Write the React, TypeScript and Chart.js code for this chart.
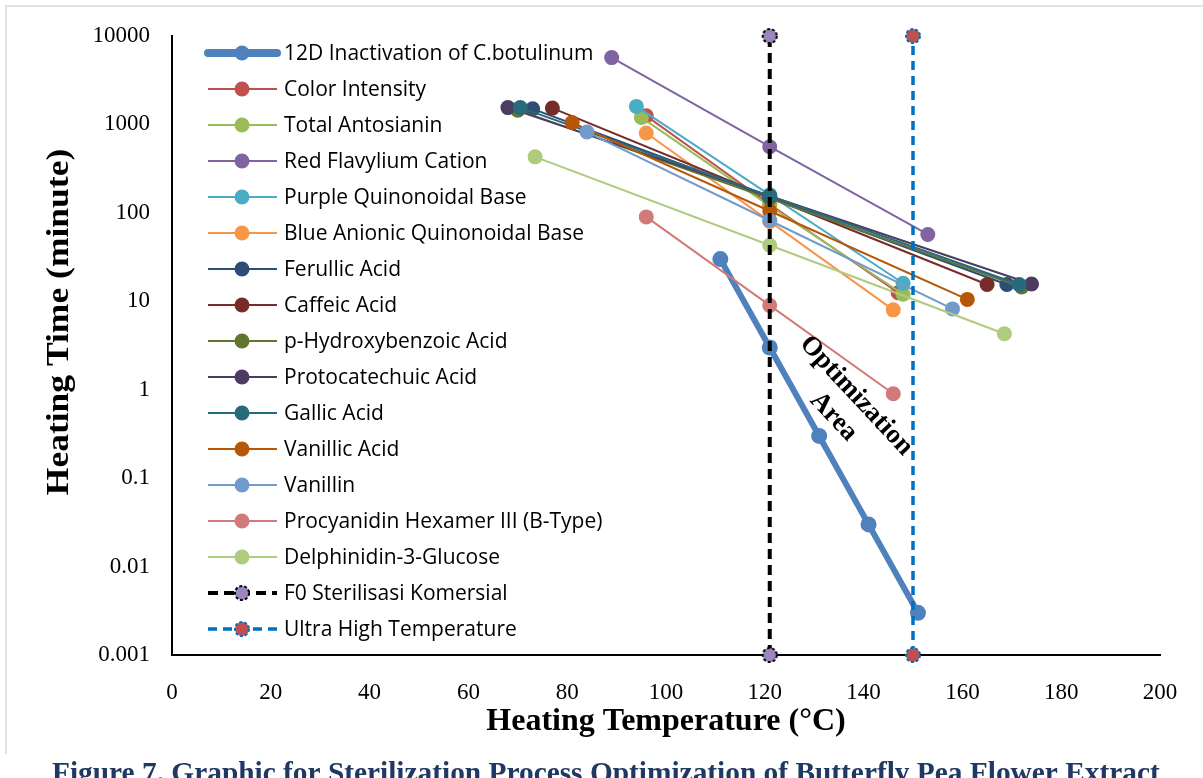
import React, { useEffect, useRef } from 'react';
import { Chart, registerables } from 'chart.js';

Chart.register(...registerables);

// ---------- data ----------
const SERIES_NAMES = [
  '12D Inactivation of C.botulinum',
  'Color Intensity',
  'Total Antosianin',
  'Red Flavylium Cation',
  'Purple Quinonoidal Base',
  'Blue Anionic Quinonoidal Base',
  'Ferullic Acid',
  'Caffeic Acid',
  'p-Hydroxybenzoic Acid',
  'Protocatechuic Acid',
  'Gallic Acid',
  'Vanillic Acid',
  'Vanillin',
  'Procyanidin Hexamer III (B-Type)',
  'Delphinidin-3-Glucose',
  'F0 Sterilisasi Komersial',
  'Ultra High Temperature',
];

const botulinumTemp = [111, 121, 131, 141, 151];
const botulinumTime = [30, 3, 0.3, 0.03, 0.003];

const colorIntensityTemp = [96, 121, 147];
const colorIntensityTime = [1250, 125, 12.5];

const totalAntosianinTemp = [95, 121, 148];
const totalAntosianinTime = [1200, 120, 12];

const redFlavyliumTemp = [89, 121, 153];
const redFlavyliumTime = [5700, 560, 57];

const purpleQuinonoidalTemp = [94, 121, 148];
const purpleQuinonoidalTime = [1600, 160, 16];

const blueAnionicTemp = [96, 121, 146];
const blueAnionicTime = [800, 80, 8];

const ferullicTemp = [73, 121, 169];
const ferullicTime = [1500, 150, 15.5];

const caffeicTemp = [77, 121, 165];
const caffeicTime = [1530, 150, 15.5];

const hydroxybenzoicTemp = [70, 121, 172];
const hydroxybenzoicTime = [1450, 145, 14.5];

const protocatechuicTemp = [68, 121, 174];
const protocatechuicTime = [1550, 155, 15.7];

const gallicTemp = [70.5, 121, 171.5];
const gallicTime = [1550, 155, 15.5];

const vanillicTemp = [81, 121, 161];
const vanillicTime = [1050, 105, 10.5];

const vanillinTemp = [84, 121, 158];
const vanillinTime = [820, 82, 8.2];

const procyanidinTemp = [96, 121, 146];
const procyanidinTime = [90, 9, 0.9];

const delphinidinTemp = [73.5, 121, 168.5];
const delphinidinTime = [430, 43, 4.3];

const f0Temp = [121, 121];
const f0Time = [0.001, 10000];

const uhtTemp = [150, 150];
const uhtTime = [0.001, 10000];

const SERIES_COLORS = [
  '#4F81BD', '#C0504D', '#9BBB59', '#8064A2', '#4BACC6', '#F79646',
  '#2C4D75', '#772C2A', '#5F7530', '#4D3B62', '#276A7C', '#B65708',
  '#729ACA', '#D07B7A', '#AFCB7E', '#000000', '#0070C0',
];

const Y_TICKS = [0.001, 0.01, 0.1, 1, 10, 100, 1000, 10000];
const Y_TICK_LABELS = ['0.001', '0.01', '0.1', '1', '10', '100', '1000', '10000'];
const X_MIN = 0;
const X_MAX = 200;
const X_STEP = 20;

const X_TITLE = 'Heating Temperature (°C)';
const Y_TITLE = 'Heating Time (minute)';
const CAPTION = 'Figure 7. Graphic for Sterilization Process Optimization of Butterfly Pea Flower Extract';
const ANNOTATION_LINES = ['Optimization', 'Area'];
const ANNOTATION_AT = { x: 136.2, y: 0.65 };

const SERIES_DATA: [number[], number[]][] = [
  [botulinumTemp, botulinumTime],
  [colorIntensityTemp, colorIntensityTime],
  [totalAntosianinTemp, totalAntosianinTime],
  [redFlavyliumTemp, redFlavyliumTime],
  [purpleQuinonoidalTemp, purpleQuinonoidalTime],
  [blueAnionicTemp, blueAnionicTime],
  [ferullicTemp, ferullicTime],
  [caffeicTemp, caffeicTime],
  [hydroxybenzoicTemp, hydroxybenzoicTime],
  [protocatechuicTemp, protocatechuicTime],
  [gallicTemp, gallicTime],
  [vanillicTemp, vanillicTime],
  [vanillinTemp, vanillinTime],
  [procyanidinTemp, procyanidinTime],
  [delphinidinTemp, delphinidinTime],
  [f0Temp, f0Time],
  [uhtTemp, uhtTime],
];

const SERIF = '"Liberation Serif", "Times New Roman", serif';
const SANS = '"Open Sans", "Noto Sans", sans-serif';

function markerCanvas(fill: string, stroke: string): HTMLCanvasElement {
  const c = document.createElement('canvas');
  c.width = 20;
  c.height = 20;
  const g = c.getContext('2d')!;
  g.beginPath();
  g.arc(10, 10, 7, 0, Math.PI * 2);
  g.fillStyle = fill;
  g.fill();
  g.setLineDash([3, 2]);
  g.lineWidth = 2;
  g.strokeStyle = stroke;
  g.stroke();
  return c;
}

const overlayPlugin = {
  id: 'overlay',
  beforeDraw(chart: any) {
    const ctx = chart.ctx as CanvasRenderingContext2D;
    ctx.save();
    ctx.strokeStyle = '#D9D9D9';
    ctx.lineWidth = 1.5;
    ctx.beginPath();
    ctx.moveTo(6, 754);
    ctx.lineTo(6, 6);
    ctx.lineTo(1210, 6);
    ctx.stroke();
    ctx.restore();
  },
  afterDraw(chart: any) {
    const ctx = chart.ctx as CanvasRenderingContext2D;
    const xs = chart.scales.x;
    const ys = chart.scales.y;
    ctx.save();

    // axis titles
    ctx.fillStyle = '#000';
    ctx.textAlign = 'center';
    ctx.textBaseline = 'middle';
    ctx.font = `bold 35.5px ${SERIF}`;
    ctx.save();
    ctx.translate(60, 322);
    ctx.rotate(-Math.PI / 2);
    ctx.scale(1, 0.88);
    ctx.fillText(Y_TITLE, 0, 0);
    ctx.restore();
    ctx.font = `bold 32px ${SERIF}`;
    ctx.fillText(X_TITLE, (xs.left + xs.right) / 2, 722);

    // annotation
    const ax = xs.getPixelForValue(ANNOTATION_AT.x);
    const ay = ys.getPixelForValue(ANNOTATION_AT.y);
    ctx.save();
    ctx.translate(ax, ay);
    ctx.rotate((47 * Math.PI) / 180);
    ctx.font = `bold 27px ${SERIF}`;
    ANNOTATION_LINES.forEach((t, i) => {
      ctx.fillText(t, 0, (i - (ANNOTATION_LINES.length - 1) / 2) * 31);
    });
    ctx.restore();

    // caption
    ctx.fillStyle = '#1F3864';
    ctx.textAlign = 'left';
    ctx.textBaseline = 'alphabetic';
    ctx.font = `bold 100px ${SERIF}`;
    const w100 = ctx.measureText(CAPTION).width;
    const size = (100 * 1108) / w100;
    ctx.font = `bold ${size}px ${SERIF}`;
    ctx.fillText(CAPTION, 52, 763 + 0.66 * size);

    // legend
    const x0 = 208;
    const x1 = 277;
    const mx = 242;
    const tx = 284;
    chart.data.datasets.forEach((ds: any, i: number) => {
      const cy = 53 + i * 36;
      ctx.save();
      ctx.strokeStyle = ds.borderColor;
      ctx.lineWidth = i === 0 ? 8 : ds.borderWidth;
      ctx.lineCap = i === 0 ? 'round' : 'butt';
      ctx.setLineDash(ds.borderDash || []);
      ctx.beginPath();
      ctx.moveTo(x0, cy);
      ctx.lineTo(x1, cy);
      ctx.stroke();
      ctx.setLineDash([]);
      if (ds.pointStyle && typeof ds.pointStyle !== 'string') {
        const img = ds.pointStyle as HTMLCanvasElement;
        ctx.drawImage(img, mx - img.width / 2, cy - img.height / 2);
      } else {
        ctx.beginPath();
        ctx.arc(mx, cy, 7.5, 0, Math.PI * 2);
        ctx.fillStyle = ds.pointBackgroundColor;
        ctx.fill();
      }
      ctx.fillStyle = '#000';
      ctx.font = `21px ${SANS}`;
      ctx.textAlign = 'left';
      ctx.textBaseline = 'middle';
      ctx.fillText(ds.label, tx, cy + 1);
      ctx.restore();
    });

    ctx.restore();
  },
};

export default function App() {
  const ref = useRef<HTMLCanvasElement | null>(null);

  useEffect(() => {
    document.documentElement.style.overflow = 'hidden';
    const canvas = ref.current!;
    const n = SERIES_NAMES.length;
    const f0Marker = markerCanvas('#9C86C0', '#000000');
    const uhtMarker = markerCanvas('#C0504D', '#0070C0');

    const datasets = SERIES_NAMES.map((name, i) => {
      const [temps, times] = SERIES_DATA[i];
      const color = SERIES_COLORS[i];
      const base: any = {
        label: name,
        data: temps.map((t, k) => ({ x: t, y: times[k] })),
        showLine: true,
        clip: false,
        borderColor: color,
        backgroundColor: color,
        borderWidth: 2,
        pointRadius: 7.5,
        pointHoverRadius: 7.5,
        pointBackgroundColor: color,
        pointBorderColor: color,
        pointBorderWidth: 0,
        order: n - i,
      };
      if (i === 0) {
        base.borderWidth = 6;
        base.pointRadius = 8;
        base.pointHoverRadius = 8;
        base.borderCapStyle = 'round';
        base.borderJoinStyle = 'round';
      }
      if (i === n - 2) {
        base.borderWidth = 4;
        base.borderDash = [10, 6];
        base.pointStyle = f0Marker;
      }
      if (i === n - 1) {
        base.borderWidth = 3.5;
        base.borderDash = [9, 6];
        base.pointStyle = uhtMarker;
      }
      return base;
    });

    const chart = new Chart(canvas, {
      type: 'scatter',
      data: { datasets },
      options: {
        animation: false,
        responsive: false,
        devicePixelRatio: 1,
        layout: { padding: { top: 36, right: 43, left: 0, bottom: 40 } },
        plugins: {
          legend: { display: false },
          tooltip: { enabled: false },
          title: { display: false },
        },
        scales: {
          x: {
            type: 'linear',
            min: X_MIN,
            max: X_MAX,
            ticks: {
              stepSize: X_STEP,
              color: '#000',
              font: { family: SERIF, size: 23 },
              padding: 24,
            },
            grid: { display: false, drawTicks: false },
            border: { display: true, color: '#000', width: 2 },
            afterFit: (s: any) => {
              s.height = 95;
            },
          },
          y: {
            type: 'logarithmic',
            min: Y_TICKS[0],
            max: Y_TICKS[Y_TICKS.length - 1],
            afterBuildTicks: (s: any) => {
              s.ticks = Y_TICKS.map((v) => ({ value: v }));
            },
            ticks: {
              autoSkip: false,
              color: '#000',
              font: { family: SERIF, size: 23 },
              padding: 22,
              callback: (v: any) => {
                const k = Y_TICKS.indexOf(Number(v));
                return k >= 0 ? Y_TICK_LABELS[k] : '';
              },
            },
            grid: { display: false, drawTicks: false },
            border: { display: true, color: '#000', width: 2 },
            afterFit: (s: any) => {
              s.width = 172;
            },
          },
        },
      },
      plugins: [overlayPlugin],
    } as any);

    return () => chart.destroy();
  }, []);

  return (
    <div style={{ position: 'absolute', left: 0, top: 0, width: 1203, height: 778, overflow: 'hidden', background: '#fff' }}>
      <canvas ref={ref} width={1203} height={790} style={{ display: 'block', width: 1203, height: 790 }} />
    </div>
  );
}
